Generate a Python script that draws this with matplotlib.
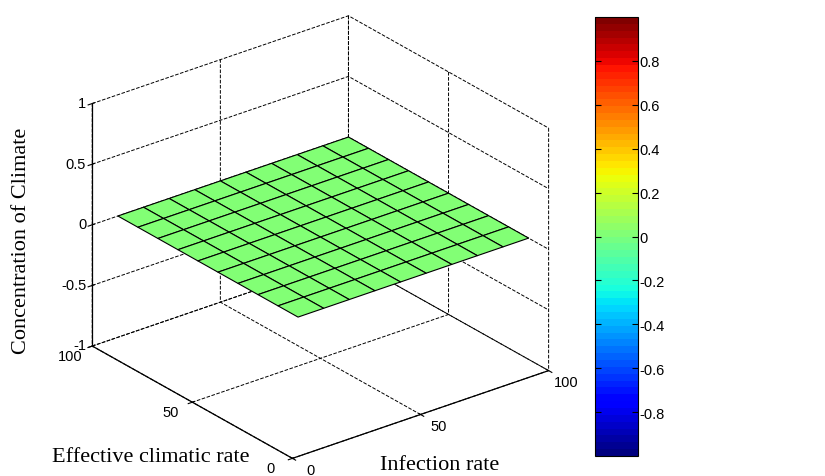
import matplotlib
matplotlib.use('Agg')
import matplotlib.pyplot as plt
import numpy as np

# grid of the surface (10 x 10 points, 10..100)
infection_rate = [10, 20, 30, 40, 50, 60, 70, 80, 90, 100]
effective_climatic_rate = [10, 20, 30, 40, 50, 60, 70, 80, 90, 100]
concentration = [
    [0, 0, 0, 0, 0, 0, 0, 0, 0, 0],
    [0, 0, 0, 0, 0, 0, 0, 0, 0, 0],
    [0, 0, 0, 0, 0, 0, 0, 0, 0, 0],
    [0, 0, 0, 0, 0, 0, 0, 0, 0, 0],
    [0, 0, 0, 0, 0, 0, 0, 0, 0, 0],
    [0, 0, 0, 0, 0, 0, 0, 0, 0, 0],
    [0, 0, 0, 0, 0, 0, 0, 0, 0, 0],
    [0, 0, 0, 0, 0, 0, 0, 0, 0, 0],
    [0, 0, 0, 0, 0, 0, 0, 0, 0, 0],
    [0, 0, 0, 0, 0, 0, 0, 0, 0, 0],
]
xy_ticks = [0, 50, 100]
xy_labels = ['0', '50', '100']
z_ticks = [-1, -0.5, 0, 0.5, 1]
z_labels = ['-1', '-0.5', '0', '0.5', '1']
cbar_ticks = [-0.8, -0.6, -0.4, -0.2, 0, 0.2, 0.4, 0.6, 0.8]
cbar_labels = ['-0.8', '-0.6', '-0.4', '-0.2', '0', '0.2', '0.4', '0.6', '0.8']

plt.rcParams['font.family'] = ['Liberation Sans', 'DejaVu Sans']
plt.rcParams['grid.linestyle'] = '--'
plt.rcParams['grid.color'] = 'k'
plt.rcParams['grid.linewidth'] = 0.7

fig = plt.figure(figsize=(8.25, 4.77), dpi=100)
ax = fig.add_axes([0.0206, -0.0126, 0.72, 1.0], projection='3d')
ax.set_proj_type('ortho')
ax.view_init(elev=26, azim=-128)
ax.set_box_aspect((1, 1, 0.83), zoom=1.085)

X, Y = np.meshgrid(infection_rate, effective_climatic_rate)
Z = np.array(concentration, dtype=float)
jet = plt.get_cmap('jet', 64)
surf = ax.plot_surface(X, Y, Z, cmap=jet, vmin=-1, vmax=1, rstride=1, cstride=1,
                       edgecolor='k', linewidth=0.8, shade=False, antialiased=True)

ax.set_xlim(0, 100)
ax.set_ylim(0, 100)
ax.set_zlim(-1, 1)
ax.set_xticks(xy_ticks)
ax.set_yticks(xy_ticks)
ax.set_zticks(z_ticks)
for a in (ax.xaxis, ax.yaxis, ax.zaxis):
    a.set_major_formatter(plt.NullFormatter())
    for t in a.get_major_ticks():
        t.label1.set_visible(False)
        t.label2.set_visible(False)

# tick labels placed MATLAB-like next to the axis lines
for v, s in zip(xy_ticks, xy_labels):
    ax.text(v, -9, -1.01, s, ha='center', va='center', fontsize=10.5)
    ax.text(-8.5, v, -1.02, s, ha='center', va='center', fontsize=10.5)
for v, s in zip(z_ticks, z_labels):
    ax.text(-1.2, 101.5, v, s, ha='right', va='center', fontsize=10.5)

for a in (ax.xaxis, ax.yaxis, ax.zaxis):
    a.pane.fill = False
    a.pane.set_edgecolor('none')
    a.line.set_color('k')
    a.line.set_linewidth(0.9)

fig.text(22/825, 1 - 241/477, 'Concentration of Climate', rotation=90, ha='center', va='center',
         fontsize=16, family=['Liberation Serif'])
fig.text(151/825, 1 - 458/477, 'Effective climatic rate', ha='center', va='center',
         fontsize=16, family=['Liberation Serif'])
fig.text(440/825, 1 - 466/477, 'Infection rate', ha='center', va='center',
         fontsize=16, family=['Liberation Serif'])

cax = fig.add_axes([595/825, 20/477, 43/825, 439/477])
cb = fig.colorbar(surf, cax=cax, ticks=cbar_ticks)
cb.ax.set_yticklabels(cbar_labels)
cax.tick_params(direction='in', left=True, right=True, length=4, labelsize=10.5, pad=1)
cb.outline.set_linewidth(0.8)

fig.savefig('out.png', dpi=100)
